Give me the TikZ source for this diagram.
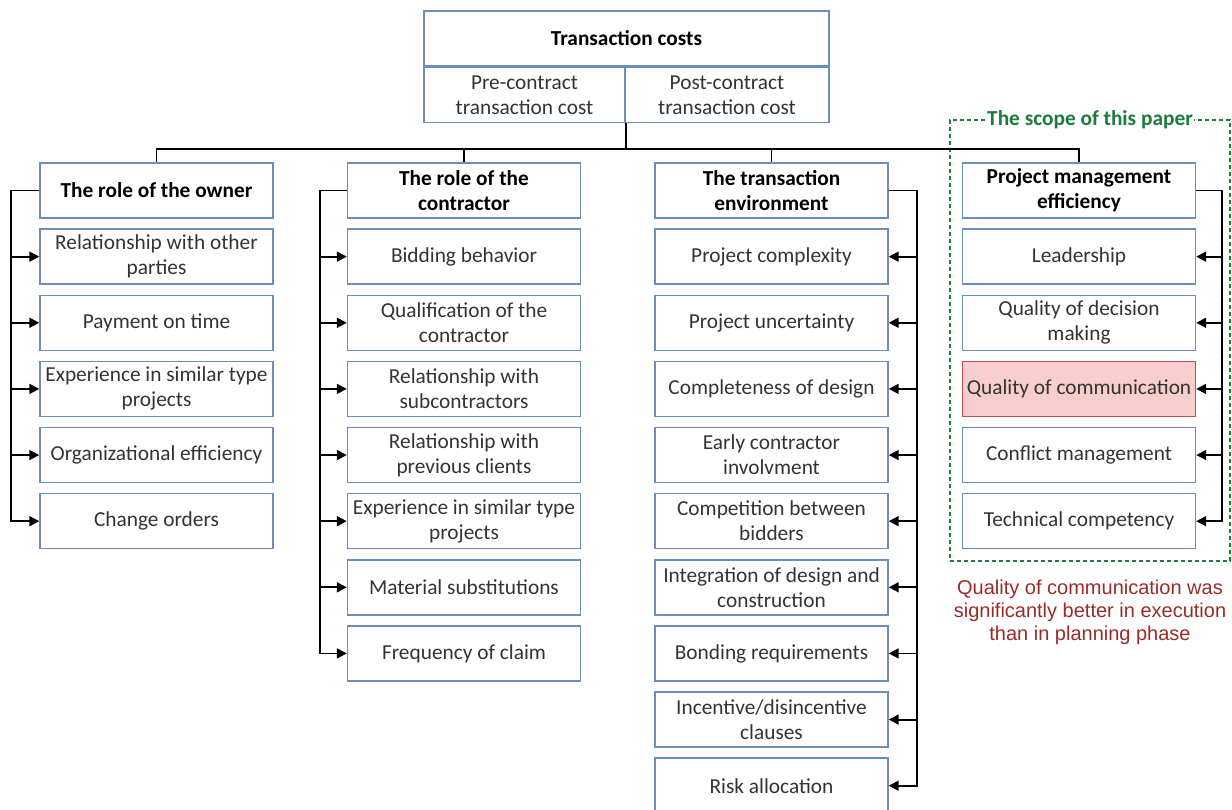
\documentclass[tikz,border=0pt]{standalone}
\usepackage{fontspec}
\setmainfont{Carlito}
\newfontfamily\notefont{Liberation Sans}
\usepackage{tikz}
\usetikzlibrary{positioning,arrows.meta}
\definecolor{boxblue}{HTML}{6C8EBF}
\definecolor{itemgray}{HTML}{333333}
\definecolor{redfill}{HTML}{F8CECC}
\definecolor{redline}{HTML}{B85450}
\definecolor{scopegreen}{HTML}{1E7B3E}
\definecolor{notered}{HTML}{9A2B2B}

\begin{document}
\begin{tikzpicture}[x=0.75pt,y=-0.75pt,
    node distance=7.25pt,
    every node/.style={font=\fontsize{16}{18.75}\selectfont},
    itembox/.style={draw=boxblue, line width=1.1pt, minimum width=174.75pt,
        minimum height=41.25pt, align=center, text=itemgray, inner sep=1pt},
    headbox/.style={itembox, text=black, font=\fontsize{16}{18.75}\selectfont\bfseries},
    link/.style={line width=1.4pt, -{Triangle[length=7.5pt,width=7.5pt]}},
    tree/.style={line width=1.4pt}
]
\useasboundingbox (0,0) rectangle (1232,810);

\node[draw=scopegreen,
    line width=1.1pt,
    dash pattern=on 3pt off 2.25pt,
    minimum width=210pt,
    minimum height=330.75pt
] (scope) at (1090,340.5) {};

\node[fill=white,
    text=scopegreen,
    inner sep=1pt,
    font=\fontsize{16}{18.75}\selectfont\bfseries
] (scopelabel) at (scope.north) {The scope of this paper};

\node[headbox, minimum width=303.75pt] (tc) at (626.5,38.5) {Transaction costs};
\node[itembox, minimum width=150.75pt, anchor=north west] (pre) at (tc.south west) {Pre-contract\\transaction cost};
\node[itembox, minimum width=153pt, anchor=north east] (post) at (tc.south east) {Post-contract\\transaction cost};

\node[headbox] (owner) at (156.5,190.5) {The role of the owner};
\node[itembox, below=of owner] (own1) {Relationship with other\\parties};
\node[itembox, below=of own1] (own2) {Payment on time};
\node[itembox, below=of own2] (own3) {Experience in similar type\\projects};
\node[itembox, below=of own3] (own4) {Organizational efficiency};
\node[itembox, below=of own4] (own5) {Change orders};

\node[headbox] (contractor) at (464,190.5) {The role of the\\contractor};
\node[itembox, below=of contractor] (con1) {Bidding behavior};
\node[itembox, below=of con1] (con2) {Qualification of the\\contractor};
\node[itembox, below=of con2] (con3) {Relationship with\\subcontractors};
\node[itembox, below=of con3] (con4) {Relationship with\\previous clients};
\node[itembox, below=of con4] (con5) {Experience in similar type\\projects};
\node[itembox, below=of con5] (con6) {Material substitutions};
\node[itembox, below=of con6] (con7) {Frequency of claim};

\node[headbox] (env) at (771.5,190.5) {The transaction\\environment};
\node[itembox, below=of env] (env1) {Project complexity};
\node[itembox, below=of env1] (env2) {Project uncertainty};
\node[itembox, below=of env2] (env3) {Completeness of design};
\node[itembox, below=of env3] (env4) {Early contractor\\involvment};
\node[itembox, below=of env4] (env5) {Competition between\\bidders};
\node[itembox, below=of env5] (env6) {Integration of design and\\construction};
\node[itembox, below=of env6] (env7) {Bonding requirements};
\node[itembox, below=of env7] (env8) {Incentive/disincentive\\clauses};
\node[itembox, below=of env8] (env9) {Risk allocation};

\node[headbox] (pme) at (1079,190.5) {Project management\\efficiency};
\node[itembox, below=of pme] (pme1) {Leadership};
\node[itembox, below=of pme1] (pme2) {Quality of decision\\making};
\node[itembox, below=of pme2, fill=redfill, draw=redline] (pme3) {Quality of communication};
\node[itembox, below=of pme3] (pme4) {Conflict management};
\node[itembox, below=of pme4] (pme5) {Technical competency};

\node[text=notered,
    align=center,
    font=\notefont\fontsize{15}{17.25}\selectfont
] (note) at (1090,612) {Quality of communication was\\significantly better in execution\\than in planning phase};

\draw[tree] (pre.south east) -- ++(0,26) -| (owner.north);
\draw[tree] (pre.south east) -- ++(0,26) -| (contractor.north);
\draw[tree] (pre.south east) -- ++(0,26) -| (env.north);
\draw[tree] (pre.south east) -- ++(0,26) -| (pme.north);

\draw[link] (owner.west) -- ++(-28,0) |- (own1.west);
\draw[link] (owner.west) -- ++(-28,0) |- (own2.west);
\draw[link] (owner.west) -- ++(-28,0) |- (own3.west);
\draw[link] (owner.west) -- ++(-28,0) |- (own4.west);
\draw[link] (owner.west) -- ++(-28,0) |- (own5.west);

\draw[link] (contractor.west) -- ++(-27,0) |- (con1.west);
\draw[link] (contractor.west) -- ++(-27,0) |- (con2.west);
\draw[link] (contractor.west) -- ++(-27,0) |- (con3.west);
\draw[link] (contractor.west) -- ++(-27,0) |- (con4.west);
\draw[link] (contractor.west) -- ++(-27,0) |- (con5.west);
\draw[link] (contractor.west) -- ++(-27,0) |- (con6.west);
\draw[link] (contractor.west) -- ++(-27,0) |- (con7.west);

\draw[link] (env.east) -- ++(28,0) |- (env1.east);
\draw[link] (env.east) -- ++(28,0) |- (env2.east);
\draw[link] (env.east) -- ++(28,0) |- (env3.east);
\draw[link] (env.east) -- ++(28,0) |- (env4.east);
\draw[link] (env.east) -- ++(28,0) |- (env5.east);
\draw[link] (env.east) -- ++(28,0) |- (env6.east);
\draw[link] (env.east) -- ++(28,0) |- (env7.east);
\draw[link] (env.east) -- ++(28,0) |- (env8.east);
\draw[link] (env.east) -- ++(28,0) |- (env9.east);

\draw[link] (pme.east) -- ++(26,0) |- (pme1.east);
\draw[link] (pme.east) -- ++(26,0) |- (pme2.east);
\draw[link] (pme.east) -- ++(26,0) |- (pme3.east);
\draw[link] (pme.east) -- ++(26,0) |- (pme4.east);
\draw[link] (pme.east) -- ++(26,0) |- (pme5.east);

\end{tikzpicture}
\end{document}
